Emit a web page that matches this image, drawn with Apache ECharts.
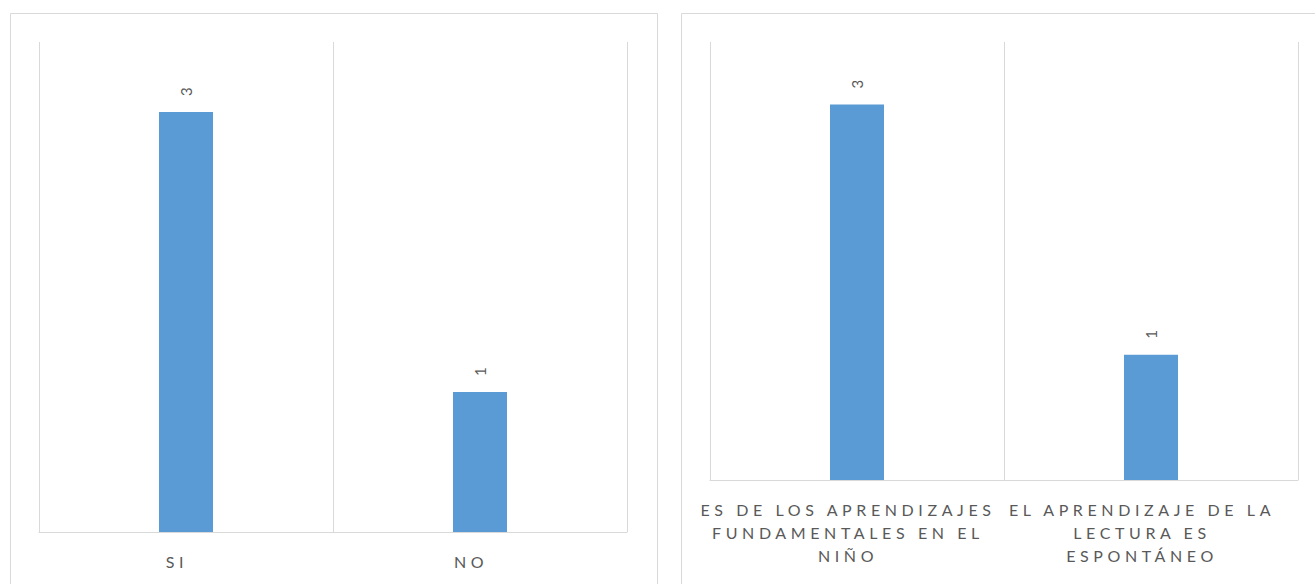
<!DOCTYPE html>
<html>
<head>
<meta charset="utf-8">
<script src="https://cdn.jsdelivr.net/npm/echarts@6/dist/echarts.min.js"></script>
<style>
  html, body { margin: 0; padding: 0; background: #fff; }
  #chart { width: 1315px; height: 584px; }
  #chart svg text { letter-spacing: 4.6px; }
</style>
</head>
<body>
<div id="chart"></div>
<script>
const categoriesLeft = ['SI', 'NO'];
const valuesLeft = [3, 1];
const categoriesRight = ['ES DE LOS APRENDIZAJES\nFUNDAMENTALES EN EL\nNIÑO', 'EL APRENDIZAJE DE LA\nLECTURA ES\nESPONTÁNEO'];
const valuesRight = [3, 1];

const chart = echarts.init(document.getElementById('chart'), null, { renderer: 'svg' });
const FONT = 'Lato, "Open Sans", sans-serif';
const GRIDC = '#D9D9D9';
const TXT = '#595959';
const BAR = '#5B9BD5';

function catAxis(idx, data) {
  return {
    type: 'category', gridIndex: idx, data: data,
    axisTick: { show: false },
    axisLine: { show: true, lineStyle: { color: GRIDC, width: 1 } },
    splitLine: { show: true, lineStyle: { color: GRIDC, width: 1 } },
    axisLabel: { color: TXT, fontFamily: FONT, fontSize: 16, lineHeight: 23, margin: 18, interval: 0,
                 padding: [0, 18, 0, 0] }
  };
}
function valAxis(idx) {
  return { type: 'value', gridIndex: idx, min: 0, max: 3.5, show: false, splitLine: { show: false } };
}
function barSeries(idx, data) {
  return {
    type: 'bar', xAxisIndex: idx, yAxisIndex: idx, data: data, barWidth: 54,
    itemStyle: { color: BAR },
    label: { show: true, position: 'top', rotate: 90, align: 'left', verticalAlign: 'middle',
             distance: 16, color: TXT, fontFamily: FONT, fontSize: 15 }
  };
}

chart.setOption({
  animation: false,
  graphic: [
    { type: 'rect', shape: { x: 10.5, y: 13.5, width: 647, height: 600 }, style: { fill: 'none', stroke: GRIDC, lineWidth: 1 } },
    { type: 'rect', shape: { x: 681.5, y: 13.5, width: 660, height: 600 }, style: { fill: 'none', stroke: GRIDC, lineWidth: 1 } }
  ],
  grid: [
    { left: 39, top: 42, width: 588, height: 490 },
    { left: 710, top: 42, width: 588, height: 438 }
  ],
  xAxis: [catAxis(0, categoriesLeft), catAxis(1, categoriesRight)],
  yAxis: [valAxis(0), valAxis(1)],
  series: [barSeries(0, valuesLeft), barSeries(1, valuesRight)]
});
</script>
</body>
</html>
